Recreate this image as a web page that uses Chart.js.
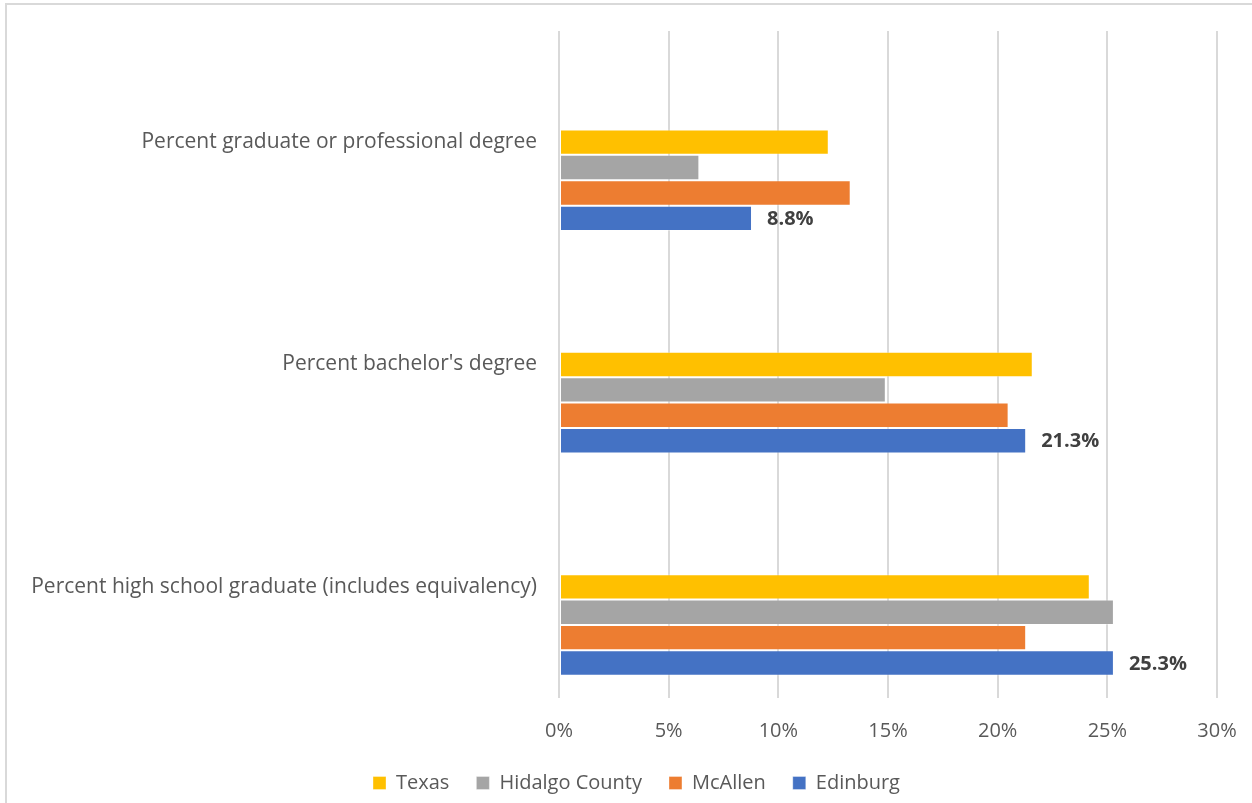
<!DOCTYPE html>
<html lang="en">
<head>
    <meta charset="UTF-8">
    <title>Educational Attainment</title>
    <script src="https://cdn.jsdelivr.net/npm/chart.js"></script>
    <style>
        body {
            margin: 0;
            background-color: #ffffff;
        }
        #wrap {
            width: 1252px;
            height: 803px;
        }
    </style>
</head>
<body>
    <div id="wrap"><canvas id="eduChart" width="1252" height="803"></canvas></div>
    <script>
        const categories = [
            'Percent graduate or professional degree',
            "Percent bachelor's degree",
            'Percent high school graduate (includes equivalency)'
        ];
        const texas = [12.3, 21.6, 24.2];
        const hidalgo = [6.4, 14.9, 25.3];
        const mcallen = [13.3, 20.5, 21.3];
        const edinburg = [8.8, 21.3, 25.3];
        const xTicks = [0, 5, 10, 15, 20, 25, 30];

        const textColor = '#595959';
        const fontFamily = "'Open Sans', 'Noto Sans', sans-serif";

        // empty series keep the clusters sitting low in each band
        const spacer = () => ({ label: '', data: [null, null, null], backgroundColor: 'transparent' });

        const series = (label, data, color) => ({
            label: label,
            data: data,
            backgroundColor: color,
            borderColor: 'rgba(255,255,255,0.35)',
            borderWidth: 1,
            borderSkipped: false
        });

        // white background and the frame on the top and left edges
        const frame = {
            id: 'frame',
            beforeDraw(chart) {
                const c = chart.ctx;
                c.save();
                c.fillStyle = '#ffffff';
                c.fillRect(0, 0, chart.width, chart.height);
                c.strokeStyle = '#d9d9d9';
                c.lineWidth = 2;
                c.beginPath();
                c.moveTo(6, chart.height);
                c.lineTo(6, 4);
                c.lineTo(chart.width, 4);
                c.stroke();
                c.restore();
            }
        };

        // nudge the legend row to the right of the canvas centre
        const legendShift = {
            id: 'legendShift',
            afterLayout(chart) {
                chart.legend.left += 28;
                chart.legend.right += 28;
            }
        };

        // value labels for the Edinburg bars
        const valueLabels = {
            id: 'valueLabels',
            afterDatasetsDraw(chart) {
                const c = chart.ctx;
                const idx = chart.data.datasets.findIndex(d => d.label === 'Edinburg');
                const meta = chart.getDatasetMeta(idx);
                c.save();
                c.font = "bold 20px " + fontFamily;
                c.fillStyle = '#404040';
                c.textBaseline = 'middle';
                c.textAlign = 'left';
                meta.data.forEach((bar, i) => {
                    c.fillText(edinburg[i].toFixed(1) + '%', bar.x + 15, bar.y + 1);
                });
                c.restore();
            }
        };

        const ctx = document.getElementById('eduChart').getContext('2d');
        new Chart(ctx, {
            type: 'bar',
            data: {
                labels: categories,
                datasets: [
                    spacer(), spacer(), spacer(),
                    series('Texas', texas, '#FFC000'),
                    series('Hidalgo County', hidalgo, '#A5A5A5'),
                    series('McAllen', mcallen, '#ED7D31'),
                    series('Edinburg', edinburg, '#4472C4')
                ]
            },
            options: {
                indexAxis: 'y',
                responsive: false,
                animation: false,
                categoryPercentage: 0.8,
                barPercentage: 1.0,
                layout: {
                    padding: { top: 31, right: 35, bottom: 0, left: 0 }
                },
                scales: {
                    x: {
                        min: 0,
                        max: 30,
                        afterBuildTicks(axis) {
                            axis.ticks = xTicks.map(v => ({ value: v }));
                        },
                        afterFit(axis) {
                            axis.height = 48;
                            axis.paddingLeft = 0;
                            axis.paddingRight = 0;
                        },
                        border: { display: false },
                        grid: {
                            color: '#d9d9d9',
                            lineWidth: 2,
                            drawTicks: false
                        },
                        ticks: {
                            padding: 21,
                            color: textColor,
                            font: { family: fontFamily, size: 20 },
                            callback: v => v + '%'
                        }
                    },
                    y: {
                        afterFit(axis) {
                            axis.width = 559;
                            axis.paddingTop = 0;
                            axis.paddingBottom = 0;
                        },
                        border: { display: false },
                        grid: { display: false, drawTicks: false },
                        ticks: {
                            padding: 22,
                            color: textColor,
                            font: { family: fontFamily, size: 21 }
                        }
                    }
                },
                plugins: {
                    legend: {
                        position: 'bottom',
                        labels: {
                            color: textColor,
                            font: { family: fontFamily, size: 20 },
                            boxWidth: 13,
                            boxHeight: 13,
                            padding: 27,
                            filter: item => item.text !== ''
                        }
                    },
                    tooltip: { enabled: false }
                }
            },
            plugins: [frame, legendShift, valueLabels]
        });
    </script>
</body>
</html>
